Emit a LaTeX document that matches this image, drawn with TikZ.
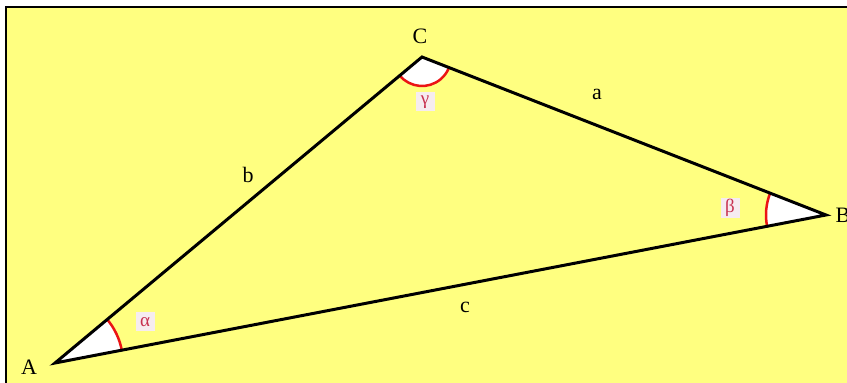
\documentclass[tikz,border=0pt]{standalone}
\usepackage{fontspec}
\setmainfont{Liberation Serif}
\usetikzlibrary{angles}
\definecolor{bgyellow}{RGB}{255,255,128}
\definecolor{anglered}{RGB}{235,20,20}
\definecolor{greekred}{RGB}{200,50,80}
\definecolor{greekbg}{RGB}{246,236,240}

\begin{document}
\begin{tikzpicture}[x=1pt, y=1pt,
  vlabel/.style={font=\fontsize{22}{22}\selectfont, inner sep=0pt},
  slabel/.style={font=\fontsize{22}{22}\selectfont, inner sep=0pt},
  greek/.style={font=\fontsize{19}{19}\selectfont, text=greekred, fill=greekbg, inner sep=1pt, minimum size=19pt},
  sector/.style={draw=anglered, fill=white, line width=2.5pt}]

  \useasboundingbox (0,0) rectangle (847,383);
  \fill[white] (0,0) rectangle (847,383);
  \filldraw[fill=bgyellow, draw=black, line width=2pt] (6,-20) rectangle (870,376);

  % corners of the triangle
  \coordinate (A) at (55,20);
  \coordinate (B) at (826,168);
  \coordinate (C) at (422,326);

  % angle sectors
  \pic[sector, angle radius=68pt] {angle=B--A--C};
  \pic[sector, angle radius=29pt] {angle=A--C--B};
  \pic[sector, angle radius=60pt] {angle=C--B--A};

  \draw[line width=3pt, line join=miter] (A) -- (B) -- (C) -- cycle;

  % vertex names
  \node[vlabel] (nA) at (29,16) {A};
  \node[vlabel] (nB) at (843,168) {B};
  \node[vlabel] (nC) at (420,347) {C};

  % side names
  \node[slabel] (na) at (597,289) {a};
  \node[slabel] (nb) at (248,208) {b};
  \node[slabel] (nc) at (465,76) {c};

  % angle names
  \node[greek] (alpha) at (145,61) {α};
  \node[greek] (beta) at (730,175) {β};
  \node[greek] (gamma) at (425,281) {γ};
\end{tikzpicture}
\end{document}
